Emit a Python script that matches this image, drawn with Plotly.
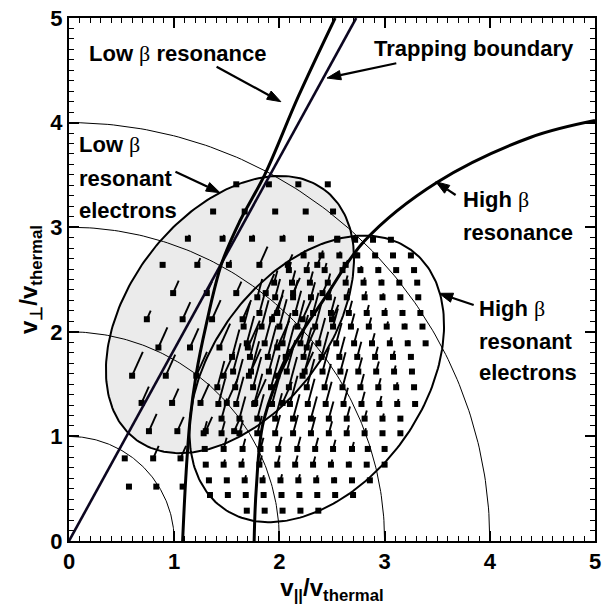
import numpy as np
import plotly.graph_objects as go

# ---------------- data ----------------
ENERGY_RADII = [1, 2, 3, 4]

# ellipses: centre, semi-axes, tilt (degrees)
LOW_ELLIPSE = {"cx": 1.53, "cy": 2.165, "a": 1.493, "b": 0.958, "angle": 53.1}
HIGH_ELLIPSE = {"cx": 2.355, "cy": 1.55, "a": 1.524, "b": 1.009, "angle": 54.2}

TRAP_X = [0.0, 2.73]
TRAP_Y = [0.0, 5.0]

LOW_RES_X = [1.08, 1.11, 1.15, 1.21, 1.30, 1.45, 1.62, 1.86, 2.18, 2.53]
LOW_RES_Y = [0.00, 0.60, 1.15, 1.60, 2.05, 2.65, 3.05, 3.50, 4.25, 5.00]

HIGH_RES_X = [1.76, 1.78, 1.85, 2.10, 2.45, 2.81, 3.50, 4.39, 5.00]
HIGH_RES_Y = [0.00, 0.50, 1.15, 1.80, 2.35, 2.87, 3.43, 3.86, 4.02]

# low-beta sample grid: row heights, positions and diffusion-arrow lengths
LB_ROW_Y = [3.41, 3.15, 2.89, 2.64, 2.37, 2.12, 1.85, 1.58, 1.32, 1.05, 0.79, 0.52]
LB_ROW_X = [
    [1.59, 1.90, 2.18, 2.46],
    [1.37, 1.67, 1.96, 2.25, 2.51],
    [1.13, 1.46, 1.74, 2.03, 2.30, 2.55],
    [0.89, 1.22, 1.52, 1.81, 2.08, 2.36, 2.63],
    [0.99, 1.31, 1.59, 1.87, 2.13, 2.41],
    [0.74, 1.08, 1.36, 1.65, 1.93, 2.22, 2.50],
    [0.85, 1.15, 1.43, 1.70, 1.98, 2.26],
    [0.60, 0.92, 1.21, 1.47, 1.71, 1.98, 2.22],
    [0.69, 0.98, 1.25, 1.50, 1.77, 2.03],
    [0.76, 1.03, 1.30, 1.57],
    [0.53, 0.80, 1.06],
    [0.57, 0.83, 1.08],
]
LB_ROW_LEN = [
    [0.0, 0.0, 0.0, 0.0],
    [0.0, 0.0, 0.0, 0.0, 0.02],
    [0.04, 0.04, 0.04, 0.04, 0.03, 0.02],
    [0.0, 0.07, 0.05, 0.19, 0.11, 0.08, 0.05],
    [0.13, 0.12, 0.12, 0.20, 0.16, 0.12],
    [0.09, 0.18, 0.20, 0.20, 0.25, 0.20, 0.15],
    [0.21, 0.20, 0.25, 0.28, 0.28, 0.22],
    [0.25, 0.22, 0.25, 0.25, 0.28, 0.28, 0.25],
    [0.17, 0.15, 0.20, 0.25, 0.25, 0.22],
    [0.18, 0.15, 0.15, 0.15],
    [0.0, 0.13, 0.13],
    [0.0, 0.0, 0.0],
]

# high-beta sample grid
HB_ROW_Y = [0.29, 0.44, 0.58, 0.73, 0.88, 1.03, 1.17, 1.31, 1.47, 1.62,
            1.76, 1.89, 2.05, 2.18, 2.33, 2.47, 2.59, 2.73, 2.88]
HB_ROW_X = [
    [1.69, 1.86, 2.03, 2.20, 2.37],
    [1.34, 1.51, 1.68, 1.85, 2.02, 2.19, 2.36, 2.53, 2.70],
    [1.33, 1.50, 1.67, 1.84, 2.01, 2.18, 2.35, 2.52, 2.69, 2.86],
    [1.30, 1.47, 1.64, 1.81, 1.98, 2.15, 2.32, 2.49, 2.66, 2.83, 3.00],
    [1.29, 1.47, 1.65, 1.82, 1.99, 2.17, 2.34, 2.51, 2.69, 2.84, 3.00],
    [1.28, 1.45, 1.62, 1.79, 1.96, 2.13, 2.30, 2.47, 2.64, 2.81, 2.98, 3.15],
    [1.45, 1.62, 1.79, 1.96, 2.13, 2.30, 2.47, 2.64, 2.81, 2.98, 3.15],
    [1.42, 1.59, 1.76, 1.93, 2.10, 2.27, 2.44, 2.61, 2.78, 2.95, 3.12, 3.29],
    [1.41, 1.58, 1.75, 1.92, 2.09, 2.26, 2.43, 2.60, 2.77, 2.94, 3.11, 3.28],
    [1.56, 1.73, 1.90, 2.07, 2.24, 2.41, 2.58, 2.75, 2.92, 3.09, 3.26],
    [1.55, 1.72, 1.89, 2.06, 2.23, 2.40, 2.57, 2.74, 2.91, 3.08, 3.25],
    [1.69, 1.86, 2.03, 2.20, 2.37, 2.54, 2.71, 2.88, 3.05, 3.22, 3.39],
    [1.66, 1.83, 2.00, 2.17, 2.34, 2.51, 2.68, 2.85, 3.02, 3.19, 3.36],
    [1.81, 1.98, 2.15, 2.32, 2.49, 2.66, 2.83, 3.00, 3.17, 3.34],
    [1.79, 1.96, 2.13, 2.30, 2.47, 2.64, 2.81, 2.98, 3.15, 3.32],
    [1.95, 2.12, 2.29, 2.46, 2.63, 2.80, 2.97, 3.14, 3.31],
    [2.09, 2.26, 2.43, 2.60, 2.77, 2.94, 3.11, 3.28],
    [2.23, 2.40, 2.57, 2.74, 2.91, 3.08, 3.25],
    [2.55, 2.72, 2.89, 3.06],
]
HB_ROW_LEN = [
    [0, 0, 0, 0, 0],
    [0, 0, 0, 0, 0, 0, 0, 0, 0],
    [0, 0.02, 0.05, 0.05, 0.06, 0.06, 0.05, 0.03, 0, 0],
    [0, 0.05, 0.06, 0.09, 0.09, 0.09, 0.08, 0.05, 0.03, 0.01, 0],
    [0, 0.11, 0.10, 0.11, 0.12, 0.12, 0.11, 0.09, 0.07, 0.03, 0],
    [0.12, 0.12, 0.13, 0.17, 0.18, 0.18, 0.16, 0.12, 0.08, 0.05, 0.02, 0],
    [0.20, 0.22, 0.24, 0.25, 0.24, 0.22, 0.17, 0.12, 0.08, 0.05, 0.02],
    [0.25, 0.27, 0.30, 0.30, 0.28, 0.25, 0.22, 0.16, 0.12, 0.08, 0.05, 0.02],
    [0.26, 0.28, 0.30, 0.32, 0.30, 0.28, 0.23, 0.18, 0.13, 0.09, 0.05, 0.02],
    [0.28, 0.30, 0.32, 0.31, 0.29, 0.24, 0.19, 0.14, 0.10, 0.06, 0.02],
    [0.27, 0.29, 0.31, 0.31, 0.29, 0.25, 0.20, 0.15, 0.10, 0.06, 0.02],
    [0.27, 0.29, 0.30, 0.28, 0.25, 0.20, 0.15, 0.10, 0.06, 0.03, 0.01],
    [0.24, 0.26, 0.27, 0.26, 0.23, 0.18, 0.13, 0.09, 0.05, 0.03, 0.01],
    [0.22, 0.23, 0.22, 0.20, 0.16, 0.12, 0.08, 0.05, 0.03, 0.01],
    [0.18, 0.18, 0.17, 0.15, 0.12, 0.09, 0.06, 0.04, 0.02, 0.01],
    [0.12, 0.12, 0.11, 0.09, 0.07, 0.05, 0.03, 0.02, 0.01],
    [0.08, 0.08, 0.07, 0.05, 0.04, 0.03, 0.02, 0.01],
    [0.05, 0.05, 0.04, 0.03, 0.02, 0.02, 0.01],
    [0.02, 0.02, 0.01, 0],
]
LB_ARROW_ANGLE = 66.0   # degrees from the v_par axis
HB_ARROW_ANGLE = 75.0

# label pointers: tail (x, y) -> tip (x, y)
POINTERS = [
    (1.403, 4.534, 2.014, 4.200),
    (3.111, 4.567, 2.453, 4.426),
    (1.012, 3.531, 1.435, 3.330),
    (3.675, 3.308, 3.487, 3.435),
    (3.847, 2.256, 3.518, 2.368),
]

TICK_VALS = [0, 1, 2, 3, 4, 5]
TICK_TEXT = ["0", "1", "2", "3", "4", "5"]

# ---------------- figure ----------------
FONT = "Liberation Sans, Arial, sans-serif"
BETA = "<span style=\"font-family:'Liberation Serif',serif;font-weight:normal\">β</span>"

fig = go.Figure()


def ellipse_xy(e, n=240):
    t = np.linspace(0, 2 * np.pi, n)
    th = np.radians(e["angle"])
    u = e["a"] * np.cos(t)
    v = e["b"] * np.sin(t)
    return e["cx"] + u * np.cos(th) - v * np.sin(th), e["cy"] + u * np.sin(th) + v * np.cos(th)


# low-beta ellipse fill
lx, ly = ellipse_xy(LOW_ELLIPSE)
fig.add_trace(go.Scatter(x=lx, y=ly, mode="lines", fill="toself", fillcolor="#ebebeb",
                         line=dict(color="rgba(0,0,0,0)", width=0), hoverinfo="skip"))

# energy circles
for r in ENERGY_RADII:
    t = np.linspace(0, np.pi / 2, 120)
    fig.add_trace(go.Scatter(x=r * np.cos(t), y=r * np.sin(t), mode="lines",
                             line=dict(color="black", width=1), hoverinfo="skip"))

# ellipse outlines
hx, hy = ellipse_xy(HIGH_ELLIPSE)
fig.add_trace(go.Scatter(x=hx, y=hy, mode="lines", line=dict(color="black", width=2), hoverinfo="skip"))
fig.add_trace(go.Scatter(x=lx, y=ly, mode="lines", line=dict(color="black", width=2), hoverinfo="skip"))


def grid_traces(rows_y, rows_x, rows_len, angle):
    ax_, ay_ = [], []
    mx, my = [], []
    c, s = np.cos(np.radians(angle)), np.sin(np.radians(angle))
    for y, xs, ls in zip(rows_y, rows_x, rows_len):
        for x, L in zip(xs, ls):
            mx.append(x)
            my.append(y)
            if L > 0:
                ax_ += [x, x + L * c, None]
                ay_ += [y, y + L * s, None]
    fig.add_trace(go.Scatter(x=ax_, y=ay_, mode="lines", line=dict(color="black", width=1.9),
                             hoverinfo="skip"))
    fig.add_trace(go.Scatter(x=mx, y=my, mode="markers",
                             marker=dict(symbol="square", size=6, color="black",
                                         line=dict(color="black", width=0)),
                             hoverinfo="skip"))


grid_traces(HB_ROW_Y, HB_ROW_X, HB_ROW_LEN, HB_ARROW_ANGLE)
grid_traces(LB_ROW_Y, LB_ROW_X, LB_ROW_LEN, LB_ARROW_ANGLE)

# resonance curves and trapping boundary
fig.add_trace(go.Scatter(x=TRAP_X, y=TRAP_Y, mode="lines", line=dict(color="#0c0620", width=2.6),
                         hoverinfo="skip"))
fig.add_trace(go.Scatter(x=LOW_RES_X, y=LOW_RES_Y, mode="lines",
                         line=dict(color="black", width=3, shape="spline", smoothing=1.0),
                         hoverinfo="skip"))
fig.add_trace(go.Scatter(x=HIGH_RES_X, y=HIGH_RES_Y, mode="lines",
                         line=dict(color="black", width=3, shape="spline", smoothing=1.0),
                         hoverinfo="skip"))

# pointer arrows: shaft + filled triangular head
HEAD_LEN, HEAD_HALF_W = 0.13, 0.045
for tx, ty, px_, py_ in POINTERS:
    d = np.array([px_ - tx, py_ - ty])
    d = d / np.hypot(*d)
    nrm = np.array([-d[1], d[0]])
    base = np.array([px_, py_]) - HEAD_LEN * d
    fig.add_trace(go.Scatter(x=[tx, base[0]], y=[ty, base[1]], mode="lines",
                             line=dict(color="black", width=2.2), hoverinfo="skip"))
    p1 = base + HEAD_HALF_W * nrm
    p2 = base - HEAD_HALF_W * nrm
    fig.add_trace(go.Scatter(x=[px_, p1[0], p2[0], px_], y=[py_, p1[1], p2[1], py_],
                             mode="lines", fill="toself", fillcolor="black",
                             line=dict(color="black", width=1), hoverinfo="skip"))

# labels
labels = [
    ("Low " + BETA + " resonance", 0.17, 4.66),
    ("Trapping boundary", 2.876, 4.71),
    ("Low " + BETA, 0.072, 3.786),
    ("resonant", 0.072, 3.464),
    ("electrons", 0.072, 3.162),
    ("High " + BETA, 3.722, 3.265),
    ("resonance", 3.722, 2.947),
    ("High " + BETA, 3.879, 2.221),
    ("resonant", 3.879, 1.909),
    ("electrons", 3.879, 1.609),
]
for txt, x, y in labels:
    fig.add_annotation(x=x, y=y, xref="x", yref="y", text=txt, showarrow=False,
                       xanchor="left", yanchor="middle",
                       font=dict(family=FONT, size=22, color="black", weight="bold"))

tick_common = dict(
    range=[0, 5], showgrid=False, zeroline=False,
    ticks="inside", ticklen=10, tickwidth=1.5, tickcolor="black",
    tickvals=TICK_VALS, ticktext=TICK_TEXT,
    minor=dict(dtick=0.1, ticks="inside", ticklen=5, tickwidth=1, tickcolor="black"),
)
fig.update_layout(
    xaxis=dict(**tick_common, showline=True, linecolor="black", linewidth=2, mirror=True,
               ticklabeloverflow="allow",
               tickfont=dict(family=FONT, size=22, color="black", weight="bold"),
               title=dict(text="v<sub>||</sub>/v<sub>thermal</sub>", standoff=2,
                          font=dict(family=FONT, size=24, color="black", weight="bold"))),
    yaxis=dict(**tick_common, showline=True, linecolor="black", linewidth=2, mirror=True,
               ticklabeloverflow="allow",
               tickfont=dict(family=FONT, size=22, color="black", weight="bold"),
               title=dict(text="v<sub>⊥</sub>/v<sub>thermal</sub>", standoff=6,
                          font=dict(family=FONT, size=24, color="black", weight="bold"))),
    xaxis2=dict(**tick_common, overlaying="x", side="top", anchor="y", showticklabels=False,
                showline=False),
    yaxis2=dict(**tick_common, overlaying="y", side="right", anchor="x", showticklabels=False,
                showline=False),
    width=605, height=612,
    margin=dict(l=69, r=4, t=18, b=71),
    paper_bgcolor="white", plot_bgcolor="white",
    showlegend=False,
)
# invisible carrier trace so the top/right tick axes are drawn
fig.add_trace(go.Scatter(x=[0], y=[0], xaxis="x2", yaxis="y2", mode="markers",
                         marker=dict(size=0, opacity=0), hoverinfo="skip"))

fig.write_html("out.html")
